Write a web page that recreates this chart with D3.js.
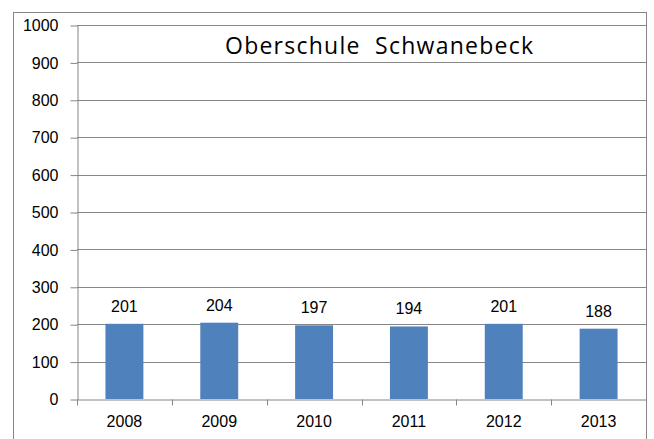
<!DOCTYPE html>
<html>
<head>
<meta charset="utf-8">
<script src="https://cdn.jsdelivr.net/npm/d3@7"></script>
<style>
  body { margin: 0; background: #fff; }
  .tick text { font-family: "Liberation Sans", Arial, sans-serif; font-size: 16px; fill: #000; }
</style>
</head>
<body>
<div class="chart"></div>
<script>
// Chart data
var years = ["2008", "2009", "2010", "2011", "2012", "2013"];
var pupils = [201, 204, 197, 194, 201, 188];
var y_ticks = [0, 100, 200, 300, 400, 500, 600, 700, 800, 900, 1000];
var chart_title = "Oberschule\u00a0\u00a0Schwanebeck";

var W = 654, H = 439;
var PLOT_LEFT = 77, PLOT_RIGHT = 646, PLOT_TOP = 25, PLOT_BOTTOM = 399;
var GRID_COLOR = "#868686";
var BAR_COLOR = "#4F81BD";

var svg = d3.select(".chart").append("svg")
    .attr("width", W)
    .attr("height", H);

// Outer frame of the chart
svg.append("rect")
    .attr("x", 13.5).attr("y", 12.5)
    .attr("width", 633).attr("height", 440)
    .attr("fill", "none")
    .attr("stroke", GRID_COLOR)
    .attr("stroke-width", 1);

var x = d3.scaleBand()
    .domain(years)
    .range([PLOT_LEFT, PLOT_RIGHT])
    .paddingInner(0.6)
    .paddingOuter(0.3);

var y = d3.scaleLinear()
    .domain([0, 1000])
    .range([PLOT_BOTTOM, PLOT_TOP]);

// Horizontal grid lines
svg.append("g")
    .selectAll("line")
    .data(y_ticks.slice(1))
    .join("line")
    .attr("x1", PLOT_LEFT)
    .attr("x2", PLOT_RIGHT)
    .attr("y1", function (d) { return Math.round(y(d)) + 0.5; })
    .attr("y2", function (d) { return Math.round(y(d)) + 0.5; })
    .attr("stroke", GRID_COLOR);

// Y axis
var y_axis = svg.append("g")
    .attr("transform", "translate(" + (PLOT_LEFT + 0.5) + ",0.5)")
    .call(d3.axisLeft(y).tickValues(y_ticks).tickFormat(d3.format("d"))
        .tickSize(7).tickPadding(12).tickSizeOuter(0));
y_axis.select(".domain").attr("stroke", GRID_COLOR);
y_axis.selectAll(".tick line").attr("stroke", GRID_COLOR);

// X axis: ticks sit on category boundaries
var x_axis = svg.append("g")
    .attr("transform", "translate(0," + (PLOT_BOTTOM + 0.5) + ")")
    .call(d3.axisBottom(x).tickSize(0).tickPadding(16));
x_axis.select(".domain").attr("stroke", GRID_COLOR);

var step = x.step();
var bounds = d3.range(years.length + 1).map(function (i) { return PLOT_LEFT + i * step; });
x_axis.append("g")
    .selectAll("line")
    .data(bounds)
    .join("line")
    .attr("x1", function (d) { return Math.round(d) + 0.5; })
    .attr("x2", function (d) { return Math.round(d) + 0.5; })
    .attr("y1", 0)
    .attr("y2", 6)
    .attr("stroke", GRID_COLOR);

// Bars
svg.append("g")
    .selectAll("rect")
    .data(pupils)
    .join("rect")
    .attr("x", function (d, i) { return x(years[i]); })
    .attr("y", function (d) { return y(d); })
    .attr("width", x.bandwidth())
    .attr("height", function (d) { return y(0) - y(d); })
    .attr("fill", BAR_COLOR);

// Value labels
svg.append("g")
    .selectAll("text")
    .data(pupils)
    .join("text")
    .attr("x", function (d, i) { return x(years[i]) + x.bandwidth() / 2; })
    .attr("y", function (d) { return y(d) - 12; })
    .attr("text-anchor", "middle")
    .attr("font-family", "Liberation Sans, Arial, sans-serif")
    .attr("font-size", 16)
    .text(function (d) { return d; });

// Title inside plot
svg.append("text")
    .attr("x", 379)
    .attr("y", 54)
    .attr("text-anchor", "middle")
    .attr("font-family", "Open Sans, sans-serif")
    .attr("font-size", 23)
    .attr("textLength", 308)
    .attr("lengthAdjust", "spacing")
    .text(chart_title);
</script>
</body>
</html>
